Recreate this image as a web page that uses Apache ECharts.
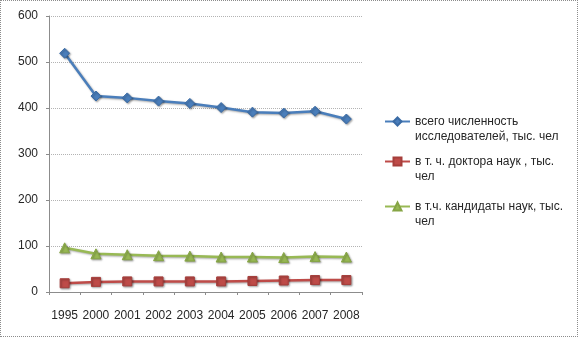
<!DOCTYPE html>
<html><head><meta charset="utf-8">
<script src="https://cdn.jsdelivr.net/npm/echarts@6/dist/echarts.min.js"></script>
<style>
html,body{margin:0;padding:0;background:#fff;}
#c{width:578px;height:337px;box-sizing:border-box;border:1px dotted #8c8c8c;}
</style></head>
<body><div id="c"></div>
<script>
var years = ['1995','2000','2001','2002','2003','2004','2005','2006','2007','2008'];
var totalResearchers = [519, 426, 422, 415, 410, 401, 391, 389, 393, 376];
var doctors = [19, 22, 23, 23, 23, 23, 24, 25, 26, 26];
var candidates = [96, 83, 81, 79, 78, 76, 76, 75, 77, 76];
var names = ['всего численность\nисследователей, тыс. чел', 'в т. ч. доктора наук , тыс.\nчел', 'в т.ч. кандидаты наук, тыс.\nчел'];
var yTicks = [0, 600, 100];

var chart = echarts.init(document.getElementById('c'), null, {renderer:'canvas'});
var font = 'Liberation Sans, Arial, sans-serif';
function leg(name, top){
  return {
    data:[name], left:383, top:top, orient:'vertical', itemWidth:25, itemHeight:10, itemGap:0,
    padding:0, selectedMode:false,
    formatter:function(n){ var p = n.split('\n'); return '{e| }\n{t|' + p[0] + '}\n{t|' + p[1] + '}'; },
    textStyle:{fontFamily:font, fontSize:12, color:'#262626',
      rich:{e:{fontSize:12, lineHeight:15}, t:{fontFamily:font, fontSize:12, color:'#262626', lineHeight:15}}}
  };
}
var shadow = {shadowColor:'rgba(0,0,0,0.35)', shadowBlur:2, shadowOffsetX:1, shadowOffsetY:1};
chart.setOption({
  animation:false,
  grid:{left:48, top:15, right:215, bottom:44, containLabel:false},
  legend:[leg(names[0], 99.5), leg(names[1], 139.5), leg(names[2], 184.5)],
  xAxis:{type:'category', data:years, boundaryGap:true,
    axisLine:{lineStyle:{color:'#8c8c8c'}},
    axisTick:{show:true, length:3, inside:false, lineStyle:{color:'#8c8c8c'}},
    axisLabel:{fontFamily:font, fontSize:12, color:'#262626', margin:18, interval:0}
  },
  yAxis:{type:'value', min:yTicks[0], max:yTicks[1], interval:yTicks[2],
    axisLine:{show:true, lineStyle:{color:'#8c8c8c'}},
    axisTick:{show:true, length:3, lineStyle:{color:'#8c8c8c'}},
    axisLabel:{fontFamily:font, fontSize:12, color:'#262626', margin:11},
    splitLine:{lineStyle:{color:'#b3b3b3', type:'dotted'}}
  },
  series:[
    {name:names[0], type:'line', data:totalResearchers, symbol:'diamond', symbolSize:10,
     lineStyle:Object.assign({color:'#4A7EBB', width:2.5}, shadow),
     itemStyle:Object.assign({color:'#4A7EBB', borderColor:'#3A6BA5', borderWidth:1}, shadow)},
    {name:names[1], type:'line', data:doctors, symbol:'rect', symbolSize:9,
     lineStyle:Object.assign({color:'#BE4B48', width:2.5}, shadow),
     itemStyle:Object.assign({color:'#BE4B48', borderColor:'#A53E3B', borderWidth:1}, shadow)},
    {name:names[2], type:'line', data:candidates, symbol:'triangle', symbolSize:10,
     lineStyle:Object.assign({color:'#98B954', width:2.5}, shadow),
     itemStyle:Object.assign({color:'#98B954', borderColor:'#86A545', borderWidth:1}, shadow)}
  ]
});
</script></body></html>
